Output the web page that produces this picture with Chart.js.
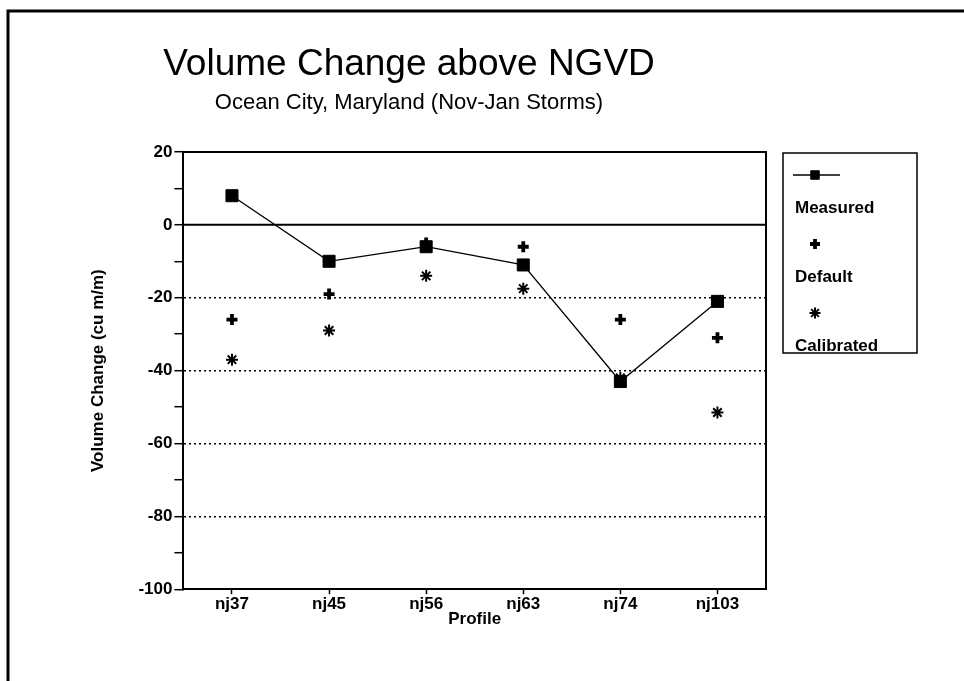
<!DOCTYPE html>
<html>
<head>
<meta charset="utf-8">
<script src="https://cdn.jsdelivr.net/npm/chart.js@4.4.1/dist/chart.umd.min.js"></script>
<style>
	html, body { margin: 0; padding: 0; background: #fff; }
	#wrap { width: 964px; height: 681px; position: relative; }
</style>
</head>
<body>
<div id="wrap"><canvas id="volChart"></canvas></div>
<script>
// values
const profiles = ["nj37", "nj45", "nj56", "nj63", "nj74", "nj103"];
const measured = [8, -10, -6, -11, -43, -21];
const defaultRun = [-26, -19, -5, -6, -26, -31];
const calibrated = [-37, -29, -14, -17.5, -42, -51.5];
const seriesNames = ["Measured", "Default", "Calibrated"];
const titleText = "Volume Change above NGVD";
const subtitleText = "Ocean City, Maryland (Nov-Jan Storms)";
const yMin = -100;
const yMax = 20;
const dottedAt = [-20, -40, -60, -80];

const FONT = "'Liberation Sans', Arial, sans-serif";
Chart.defaults.font.family = FONT;
Chart.defaults.color = "#000";

// outer frame (only top + left edges show in the scan) and the titles
const framePlugin = {
	id: "framePlugin",
	beforeDraw(chart) {
		const ctx = chart.ctx;
		ctx.save();
		ctx.fillStyle = "#fff";
		ctx.fillRect(0, 0, chart.width, chart.height);
		ctx.strokeStyle = "#000";
		ctx.lineWidth = 3;
		ctx.beginPath();
		ctx.moveTo(8, chart.height);
		ctx.lineTo(8, 11);
		ctx.lineTo(chart.width, 11);
		ctx.stroke();
		// titles are not centred on the canvas in the original, so place by hand
		ctx.fillStyle = "#000";
		ctx.textAlign = "center";
		ctx.textBaseline = "middle";
		ctx.font = "37px " + FONT;
		ctx.fillText(titleText, 409, 65);
		ctx.font = "22px " + FONT;
		ctx.fillText(subtitleText, 409, 103);
		ctx.restore();
	},
};

// solid zero line, top and right edges of plot box
const boxLines = {
	id: "boxLines",
	beforeDatasetsDraw(chart) {
		const { ctx, chartArea: { left, right, top, bottom }, scales: { y } } = chart;
		ctx.save();
		ctx.strokeStyle = "#000";
		ctx.lineWidth = 2;
		const y0 = y.getPixelForValue(0);
		ctx.beginPath();
		ctx.moveTo(left, y0);
		ctx.lineTo(right, y0);
		ctx.moveTo(left, top);
		ctx.lineTo(right, top);
		ctx.lineTo(right, bottom);
		ctx.stroke();
		ctx.restore();
	},
};

// legend with marker stacked above each label, in a box
const stackedLegend = {
	id: "stackedLegend",
	afterDraw(chart) {
		const ctx = chart.ctx;
		const bx = 783, by = 153, bw = 134, bh = 200;
		ctx.save();
		ctx.strokeStyle = "#000";
		ctx.lineWidth = 1.5;
		ctx.strokeRect(bx, by, bw, bh);
		ctx.font = "bold 17px " + FONT;
		ctx.textBaseline = "middle";
		ctx.textAlign = "left";
		chart.data.datasets.forEach((ds, i) => {
			const my = by + 22 + i * 69;
			const mx = 815;
			ctx.fillStyle = "#000";
			ctx.strokeStyle = "#000";
			if (ds.showLine) {
				ctx.lineWidth = 1.3;
				ctx.beginPath();
				ctx.moveTo(793, my);
				ctx.lineTo(840, my);
				ctx.stroke();
			}
			ctx.lineWidth = ds.pointBorderWidth;
			Chart.helpers.drawPoint(ctx, {
				pointStyle: ds.pointStyle,
				radius: ds.legendRadius,
				borderWidth: ds.pointBorderWidth,
				rotation: 0,
			}, mx, my);
			ctx.fillText(ds.label, 795, my + 33);
		});
		ctx.restore();
	},
};

new Chart(document.getElementById("volChart"), {
	type: "line",
	data: {
		labels: profiles,
		datasets: [
			{
				label: seriesNames[0],
				data: measured,
				showLine: true,
				borderColor: "#000",
				borderWidth: 1.3,
				pointStyle: "rect",
				pointRadius: 8.5,
				legendRadius: 6,
				pointBackgroundColor: "#000",
				pointBorderColor: "#000",
				pointBorderWidth: 1,
				order: 0,
			},
			{
				label: seriesNames[1],
				data: defaultRun,
				showLine: false,
				pointStyle: "cross",
				pointRadius: 5.5,
				legendRadius: 5,
				pointBorderColor: "#000",
				pointBorderWidth: 3.8,
				order: 1,
			},
			{
				label: seriesNames[2],
				data: calibrated,
				showLine: false,
				pointStyle: "star",
				pointRadius: 6,
				legendRadius: 5.5,
				pointBorderColor: "#000",
				pointBorderWidth: 2,
				order: 2,
			},
		],
	},
	plugins: [framePlugin, boxLines, stackedLegend],
	options: {
		responsive: true,
		maintainAspectRatio: false,
		animation: false,
		events: [],
		layout: {
			padding: { left: 88, right: 198, top: 152, bottom: 51 },
		},
		plugins: {
			legend: { display: false },
			tooltip: { enabled: false },
			title: { display: false },
		},
		scales: {
			x: {
				type: "category",
				offset: true,
				grid: {
					offset: false,
					drawOnChartArea: false,
					drawTicks: true,
					tickLength: 5,
					tickColor: "#000",
					tickWidth: 1.5,
				},
				border: { display: true, color: "#000", width: 2 },
				ticks: {
					color: "#000",
					font: { size: 17, weight: "bold" },
					padding: 0,
					maxRotation: 0,
				},
				title: {
					display: true,
					text: "Profile",
					color: "#000",
					font: { size: 17, weight: "bold" },
					padding: { top: -5, bottom: 0 },
				},
			},
			y: {
				min: yMin,
				max: yMax,
				grid: {
					drawOnChartArea: true,
					drawTicks: true,
					tickLength: 9,
					tickWidth: 1.5,
					tickColor: "#000",
					lineWidth: 1.4,
					color: (c) =>
						dottedAt.includes(c.tick && c.tick.value) ? "#000" : "rgba(0,0,0,0)",
				},
				border: { display: true, color: "#000", width: 2, dash: [2, 3] },
				ticks: {
					stepSize: 10,
					color: "#000",
					font: { size: 17, weight: "bold" },
					padding: 2,
					callback: (v) => (v % 20 === 0 ? v : ""),
				},
				title: {
					display: true,
					text: "Volume Change (cu m/m)",
					color: "#000",
					font: { size: 17, weight: "bold" },
					padding: { top: 0, bottom: 28 },
				},
			},
		},
	},
});
</script>
</body>
</html>
